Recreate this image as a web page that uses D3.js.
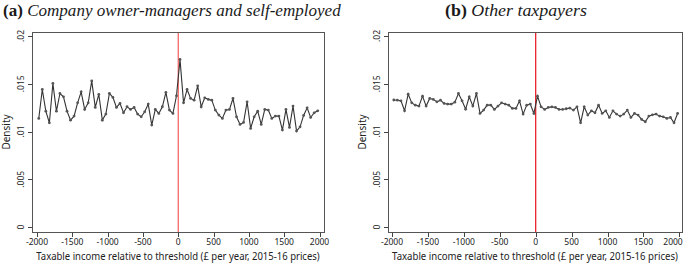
<!DOCTYPE html>
<html>
<head>
<meta charset="utf-8">
<script src="https://cdn.jsdelivr.net/npm/d3@7"></script>
<style>
  body { margin: 0; background: #fff; }
  svg { display: block; }
</style>
</head>
<body>
<div id="chart"></div>
<script>
/* DATA: density in 50-pound bins, bin centres -1975 .. 1975 */
const bins = d3.range(-1975, 2000, 50)

const ownerDensity = [
  0.01137, 0.0144, 0.01213, 0.01091, 0.01503, 0.01213, 0.01398, 0.01363, 0.01213, 0.01119,
  0.01161, 0.0130, 0.01415, 0.01231, 0.0130, 0.0153, 0.01252, 0.01388, 0.01119, 0.01182,
  0.01398, 0.01357, 0.01252, 0.01294, 0.01196, 0.01259, 0.01231, 0.01252, 0.01182, 0.01154,
  0.01206, 0.01287, 0.01067, 0.01231, 0.01189, 0.01259, 0.01409, 0.01224, 0.01189, 0.01374,
  0.01754, 0.0130, 0.0144, 0.01346, 0.01328, 0.01478, 0.01258, 0.01353, 0.01336, 0.01328,
  0.01224, 0.01172, 0.01137, 0.01224, 0.01231, 0.01346, 0.01154, 0.01074, 0.01095, 0.01311,
  0.01032, 0.01154, 0.01213, 0.01074, 0.01231, 0.01224, 0.01137, 0.01161, 0.01161, 0.01015,
  0.01231, 0.01043, 0.01266, 0.01004, 0.01049, 0.01168, 0.01248, 0.01147, 0.01196, 0.01217
]

const otherDensity = [
  0.0133, 0.01328, 0.01321, 0.01217, 0.01391, 0.0130, 0.01276, 0.01266, 0.0137, 0.01266,
  0.01346, 0.01336, 0.01311, 0.01328, 0.01294, 0.01287, 0.01287, 0.01307, 0.01398, 0.01321,
  0.01234, 0.01363, 0.01266, 0.01398, 0.01189, 0.01224, 0.01276, 0.01276, 0.01231, 0.01266,
  0.0130, 0.01287, 0.01276, 0.01242, 0.01242, 0.01321, 0.01182, 0.01276, 0.01287, 0.01189,
  0.0137, 0.01258, 0.01231, 0.01252, 0.01258, 0.01252, 0.01231, 0.01231, 0.01238, 0.01245,
  0.01224, 0.01258, 0.01091, 0.01258, 0.01172, 0.01217, 0.01196, 0.01276, 0.01189, 0.01217,
  0.01147, 0.01217, 0.01182, 0.01161, 0.01182, 0.01224, 0.01147, 0.01189, 0.01172, 0.01126,
  0.01102, 0.01161, 0.01175, 0.01182, 0.01161, 0.01154, 0.01137, 0.01147, 0.01091, 0.01189
]

const xTicks = [-2000, -1500, -1000, -500, 0, 500, 1000, 1500, 2000]
const yTicks = [0, 0.005, 0.01, 0.015, 0.02]
const yTickLabels = ["0", ".005", ".01", ".015", ".02"]
const xTitle = "Taxable income relative to threshold (\u00a3 per year, 2015-16 prices)"

/* CONSTANTS */
const width = 685, height = 266
const sansFont = "'Noto Sans', 'DejaVu Sans', sans-serif"
const serifFont = "'Liberation Serif', 'DejaVu Serif', serif"

const svg = d3.select("#chart")
  .append("svg")
  .attr("width", width)
  .attr("height", height)

// squeeze a text horizontally so it is exactly w wide
function fitWidth(sel, cx, cy, w) {
  const len = sel.node().getComputedTextLength()
  sel.attr("transform", `translate(${cx}, ${cy}) scale(${w / len}, 1)`)
}

// one panel of the figure
function drawPanel(p) {
  const x = d3.scaleLinear().domain([-2000, 2000]).range(p.xRange)
  const y = d3.scaleLinear().domain([0, 0.02]).range([227, 36])
  const g = svg.append("g")

  // panel title
  const title = g.append("text")
    .attr("font-family", serifFont)
    .attr("font-size", "17.5px")
    .attr("fill", "#1a1a1a")
  title.append("tspan").attr("font-weight", "bold").text(p.label + " ")
  title.append("tspan").attr("font-style", "italic").text(p.title)
  const tLen = title.node().getComputedTextLength()
  title.attr("transform", `translate(${p.titleX}, 16) scale(${p.titleLength / tLen}, 1)`)

  // plot frame
  g.append("rect")
    .attr("x", p.frame[0] + 0.5)
    .attr("y", 32.5)
    .attr("width", p.frame[1] - p.frame[0])
    .attr("height", 200)
    .attr("fill", "none")
    .attr("stroke", "#555")
    .attr("stroke-width", 1)

  // y ticks + labels
  g.selectAll(".ytick")
    .data(yTicks)
    .join("line")
    .attr("x1", p.frame[0] - 4)
    .attr("x2", p.frame[0] + 0.5)
    .attr("y1", d => Math.round(y(d)) + 0.5)
    .attr("y2", d => Math.round(y(d)) + 0.5)
    .attr("stroke", "#444")

  g.selectAll(".ylab")
    .data(yTicks)
    .join("text")
    .attr("transform", d => `translate(${p.frame[0] - 8}, ${y(d)}) rotate(-90)`)
    .attr("text-anchor", "middle")
    .attr("font-family", sansFont)
    .attr("font-size", "8.5px")
    .attr("fill", "#222")
    .text((d, i) => yTickLabels[i])

  // y title
  g.append("text")
    .attr("transform", `translate(${p.frame[0] - 22}, 132) rotate(-90)`)
    .attr("text-anchor", "middle")
    .attr("font-family", sansFont)
    .attr("font-size", "10px")
    .attr("fill", "#222")
    .text("Density")

  // x ticks + labels
  g.selectAll(".xtick")
    .data(xTicks)
    .join("line")
    .attr("x1", d => Math.round(x(d)) + 0.5)
    .attr("x2", d => Math.round(x(d)) + 0.5)
    .attr("y1", 232.5)
    .attr("y2", 237)
    .attr("stroke", "#444")

  g.selectAll(".xlab")
    .data(xTicks)
    .join("text")
    .attr("x", d => Math.min(x(d), width - 12))
    .attr("y", 245)
    .attr("text-anchor", "middle")
    .attr("font-family", sansFont)
    .attr("font-size", "8.5px")
    .attr("fill", "#222")
    .text(d => d)

  // x title
  const xt = g.append("text")
    .attr("text-anchor", "middle")
    .attr("font-family", sansFont)
    .attr("font-size", "10px")
    .attr("fill", "#222")
    .text(xTitle)
  fitWidth(xt, (p.frame[0] + p.frame[1]) / 2, 260, p.frame[1] - p.frame[0] - 8)

  // threshold line
  g.append("line")
    .attr("x1", x(0))
    .attr("x2", x(0))
    .attr("y1", 33)
    .attr("y2", 232)
    .attr("stroke", p.redColor)
    .attr("stroke-width", 1.2)

  // density line + markers
  const pts = bins.map((b, i) => ({ b: b, v: p.values[i] }))
  const line = d3.line().x(d => x(d.b)).y(d => y(d.v))

  g.append("path")
    .datum(pts)
    .attr("d", line)
    .attr("fill", "none")
    .attr("stroke", "#333")
    .attr("stroke-width", 1.1)

  g.selectAll(".dot")
    .data(pts)
    .join("circle")
    .attr("cx", d => x(d.b))
    .attr("cy", d => y(d.v))
    .attr("r", 1.4)
    .attr("fill", "#555")
}

drawPanel({
  label: "(a)",
  title: "Company owner-managers and self-employed",
  titleX: 3,
  titleLength: 338,
  frame: [32, 324],
  xRange: [37, 319.5],
  values: ownerDensity,
  redColor: "#f45b5b"
})

drawPanel({
  label: "(b)",
  title: "Other taxpayers",
  titleX: 445,
  titleLength: 142,
  frame: [388, 682],
  xRange: [392, 679.4],
  values: otherDensity,
  redColor: "#e8111a"
})
</script>
</body>
</html>
